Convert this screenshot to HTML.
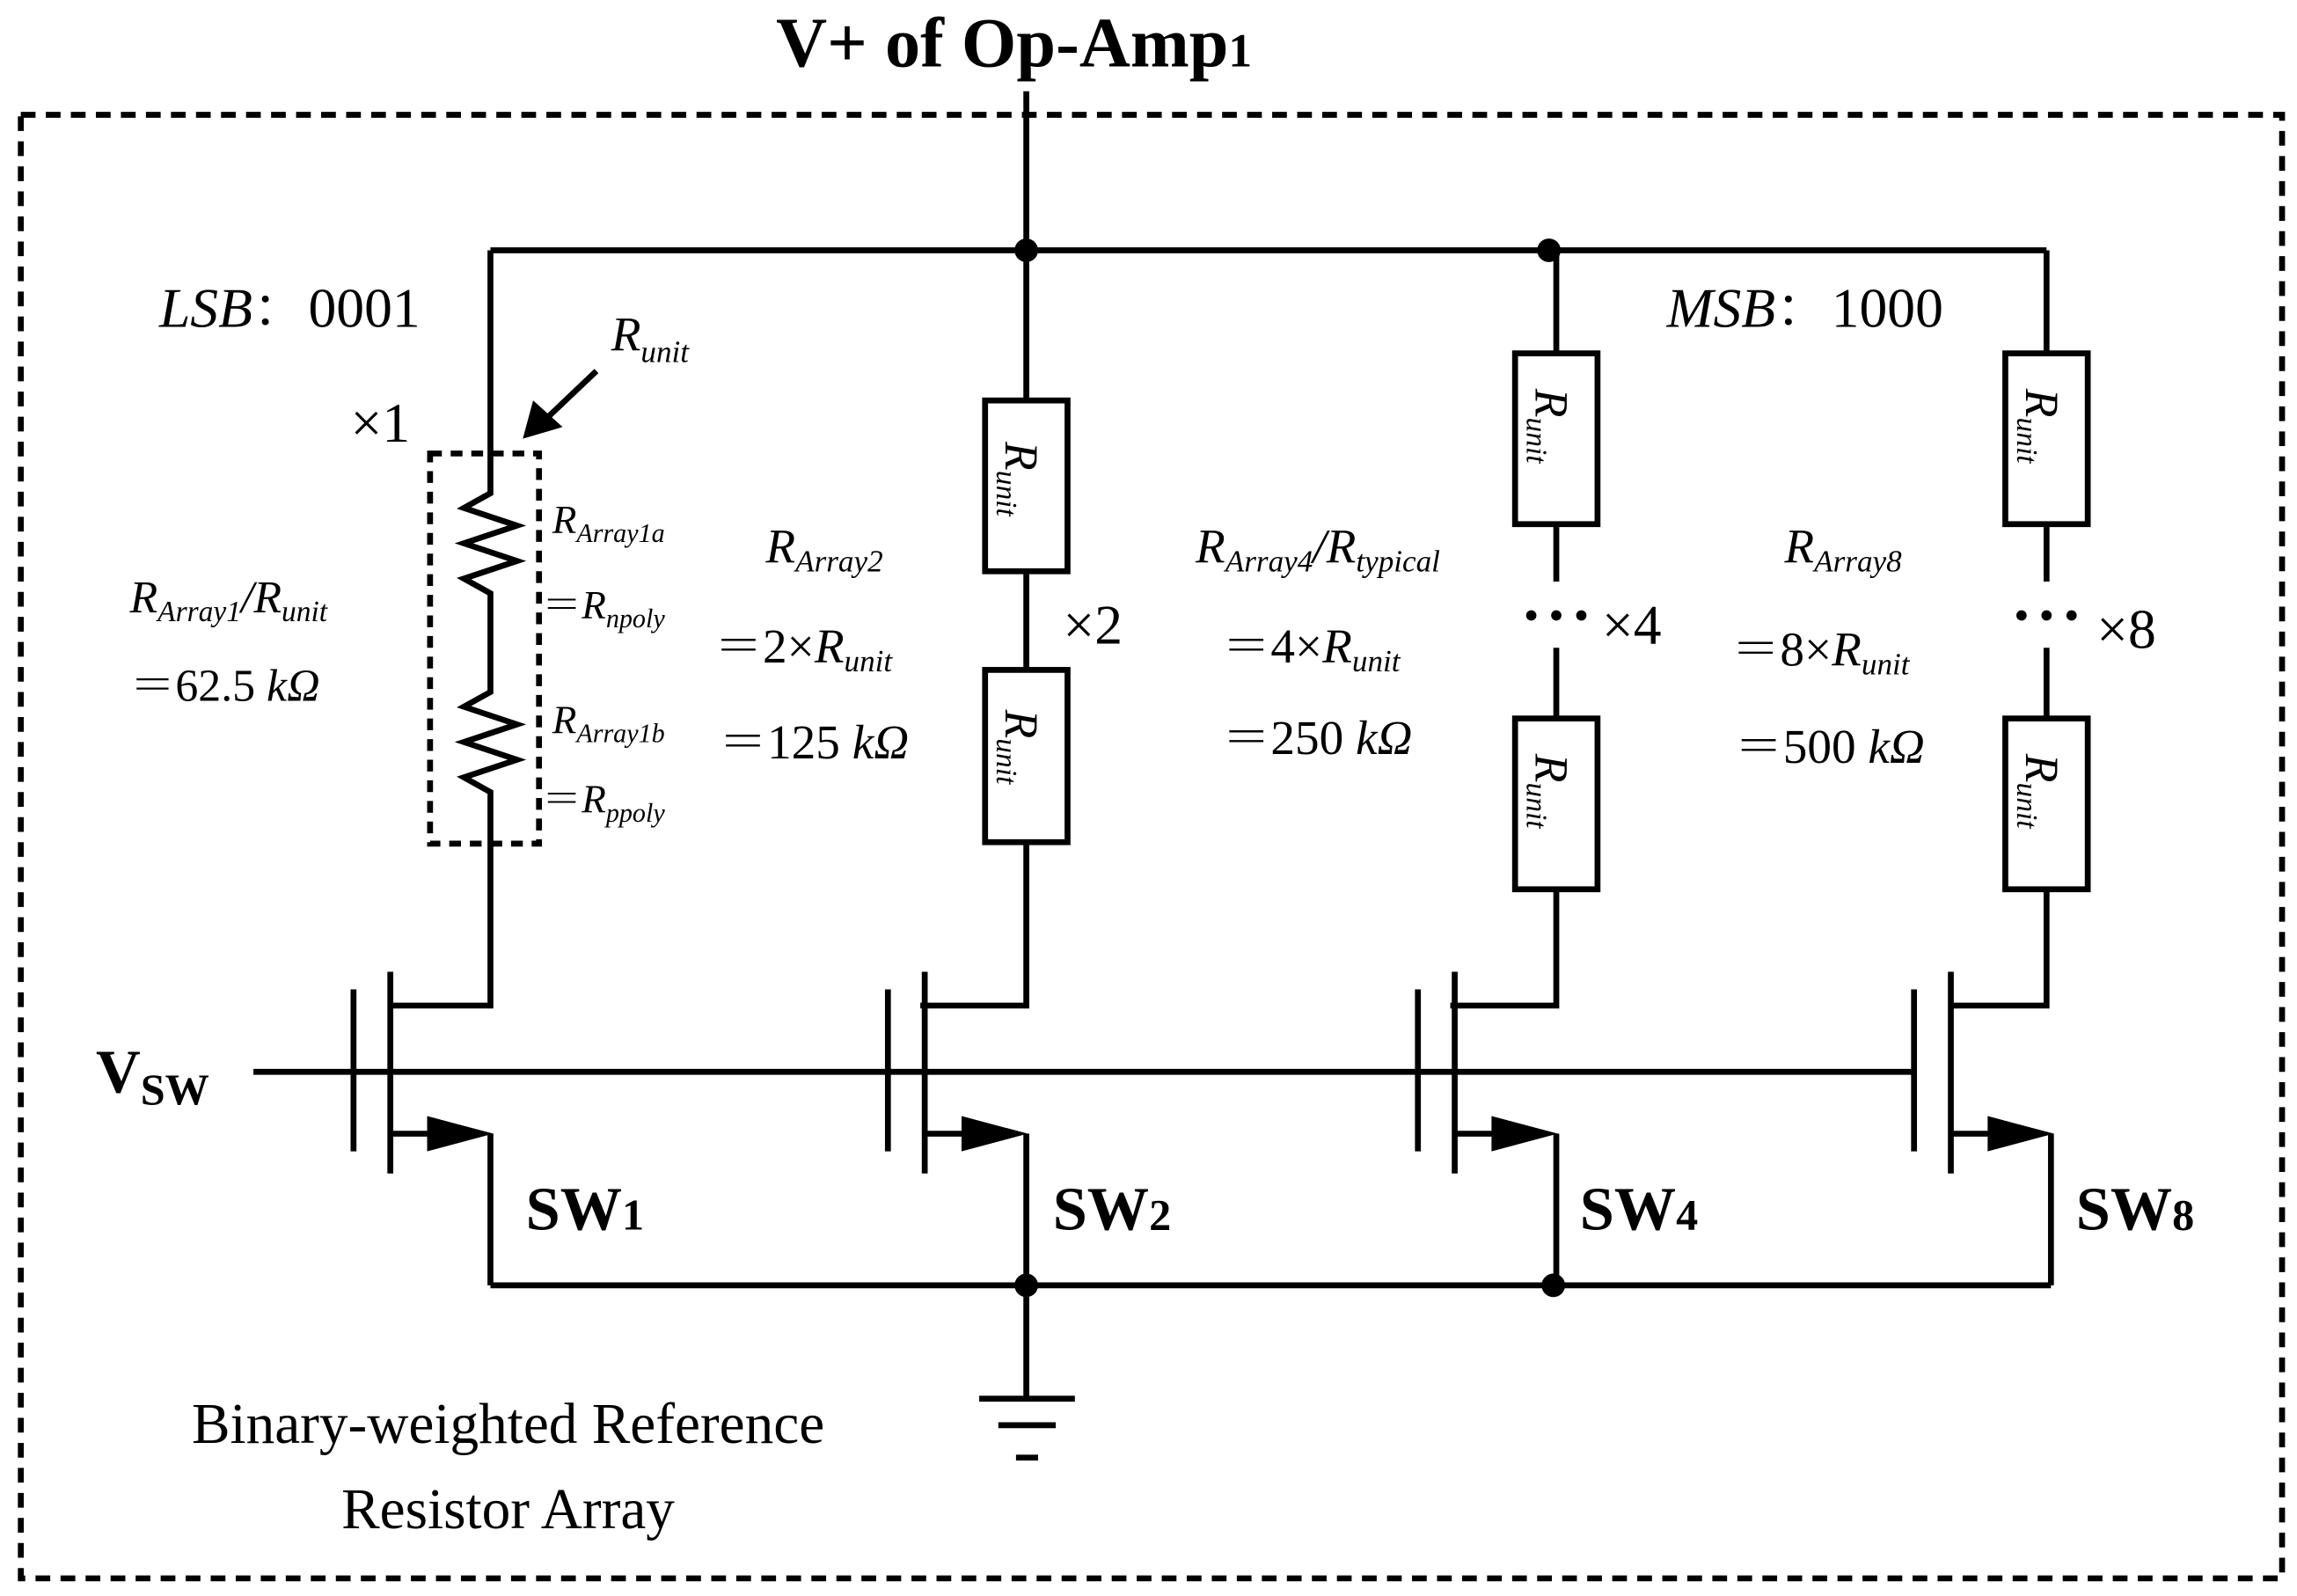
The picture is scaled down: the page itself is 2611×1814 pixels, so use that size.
<!DOCTYPE html>
<html><head><meta charset="utf-8"><style>
html,body{margin:0;padding:0;background:#fff}
svg{display:block}
text{font-family:"Liberation Serif","Noto Serif CJK SC",serif;fill:#000}
.i{font-style:italic}
</style></head><body>
<svg width="2611" height="1814" viewBox="0 0 1560 1084" xmlns="http://www.w3.org/2000/svg">
<g fill="none" stroke="#000" stroke-width="4">
<rect x="14" y="78" width="1536" height="994" stroke-dasharray="10,7"/>
<rect x="292" y="308" width="74" height="265" stroke-dasharray="8,6"/>
<path d="M697 62V170M333 170H1390M333 170V335L315 345L351 357L315 369L351 381L315 393L333 403V470L315 480L351 492L315 504L351 516L315 528L333 538V683H265"/>
<path d="M697 170V272M697 388V455M697 572V683H625"/>
<path d="M1057 170V240M1057 356V395M1057 440V488M1057 604V683H985"/>
<path d="M1390 170V240M1390 356V395M1390 440V488M1390 604V683H1325"/>
<rect x="669" y="272" width="56" height="116"/><rect x="669" y="455" width="56" height="117"/>
<rect x="1029" y="240" width="56" height="116"/><rect x="1029" y="488" width="56" height="116"/>
<rect x="1362" y="240" width="56" height="116"/><rect x="1362" y="488" width="56" height="116"/>
<path d="M172 728H1300"/>
<path d="M240 672V782M265 660V797M265 770H300M333 770V873"/>
<path d="M603 672V782M628 660V797M628 770H663M697 770V873"/>
<path d="M963 672V782M988 660V797M988 770H1023M1057 770V873"/>
<path d="M1300 672V782M1325 660V797M1325 770H1360M1393 770V873"/>
<path d="M333 873H1393M697 873V950M665 950H730M678 968H717M690 990H705"/>
<path d="M405 252L365 290"/>
</g>
<g fill="#000">
<polygon points="290,758 290,782 335,770"/>
<polygon points="653,758 653,782 698,770"/>
<polygon points="1013,758 1013,782 1058,770"/>
<polygon points="1350,758 1350,782 1395,770"/>
<polygon points="355,298 362,272 382,290"/>
<circle cx="697" cy="170" r="8"/><circle cx="1052" cy="170" r="8"/>
<circle cx="697" cy="873" r="8"/><circle cx="1055" cy="873" r="8"/>
<circle cx="1040" cy="418" r="3.5"/><circle cx="1057" cy="418" r="3.5"/><circle cx="1074" cy="418" r="3.5"/>
<circle cx="1373" cy="418" r="3.5"/><circle cx="1390" cy="418" r="3.5"/><circle cx="1407" cy="418" r="3.5"/>
</g>
<text x="527" y="45" font-size="48" font-weight="bold">V+ of Op-Amp<tspan font-size="32">1</tspan></text>
<text x="108" y="222" font-size="38"><tspan class="i">LSB</tspan>：0001</text>
<text x="1132" y="222" font-size="38"><tspan class="i">MSB</tspan>：1000</text>
<text x="415" y="238" font-size="33" class="i">R<tspan font-size="21" dy="8">unit</tspan></text>
<text x="238" y="300" font-size="38">×1</text>
<text x="375" y="362" font-size="27" class="i">R<tspan font-size="18" dy="6">Array1a</tspan></text>
<text x="368" y="420" font-size="27">＝<tspan class="i">R</tspan><tspan font-size="18" dy="6" class="i">npoly</tspan></text>
<text x="375" y="498" font-size="27" class="i">R<tspan font-size="18" dy="6">Array1b</tspan></text>
<text x="368" y="552" font-size="27">＝<tspan class="i">R</tspan><tspan font-size="18" dy="6" class="i">ppoly</tspan></text>
<text x="88" y="416" font-size="31" class="i">R<tspan font-size="20" dy="6">Array1</tspan><tspan dy="-6">/R</tspan><tspan font-size="20" dy="6">unit</tspan></text>
<text x="88" y="476" font-size="31">＝62.5 <tspan class="i">kΩ</tspan></text>
<text x="520" y="382" font-size="33" class="i">R<tspan font-size="21" dy="6">Array2</tspan></text>
<text x="485" y="450" font-size="33">＝2×<tspan class="i">R</tspan><tspan font-size="21" dy="6" class="i">unit</tspan></text>
<text x="488" y="515" font-size="33">＝125  <tspan class="i">kΩ</tspan></text>
<text x="722" y="437" font-size="38">×2</text>
<text x="812" y="382" font-size="33" class="i">R<tspan font-size="21" dy="6">Array4</tspan><tspan dy="-6">/R</tspan><tspan font-size="21" dy="6">typical</tspan></text>
<text x="830" y="450" font-size="33">＝4×<tspan class="i">R</tspan><tspan font-size="21" dy="6" class="i">unit</tspan></text>
<text x="830" y="512" font-size="33">＝250  <tspan class="i">kΩ</tspan></text>
<text x="1088" y="437" font-size="38">×4</text>
<text x="1212" y="382" font-size="33" class="i">R<tspan font-size="21" dy="6">Array8</tspan></text>
<text x="1176" y="452" font-size="33">＝8×<tspan class="i">R</tspan><tspan font-size="21" dy="6" class="i">unit</tspan></text>
<text x="1178" y="518" font-size="33">＝500  <tspan class="i">kΩ</tspan></text>
<text x="1424" y="440" font-size="38">×8</text>
<g font-size="32" class="i">
<text transform="translate(683,300) rotate(90)">R<tspan font-size="20" dy="6">unit</tspan></text>
<text transform="translate(683,482) rotate(90)">R<tspan font-size="20" dy="6">unit</tspan></text>
<text transform="translate(1043,264) rotate(90)">R<tspan font-size="20" dy="6">unit</tspan></text>
<text transform="translate(1043,512) rotate(90)">R<tspan font-size="20" dy="6">unit</tspan></text>
<text transform="translate(1376,264) rotate(90)">R<tspan font-size="20" dy="6">unit</tspan></text>
<text transform="translate(1376,512) rotate(90)">R<tspan font-size="20" dy="6">unit</tspan></text>
</g>
<text x="65" y="742" font-size="42" font-weight="bold">V<tspan font-size="30" dy="8">SW</tspan></text>
<g font-size="42" font-weight="bold">
<text x="357" y="835">SW<tspan font-size="30">1</tspan></text>
<text x="715" y="835">SW<tspan font-size="30">2</tspan></text>
<text x="1073" y="835">SW<tspan font-size="30">4</tspan></text>
<text x="1410" y="835">SW<tspan font-size="30">8</tspan></text>
</g>
<text x="345" y="980" font-size="39" text-anchor="middle">Binary-weighted Reference</text>
<text x="345" y="1038" font-size="39" text-anchor="middle">Resistor Array</text>
</svg>
</body></html>
